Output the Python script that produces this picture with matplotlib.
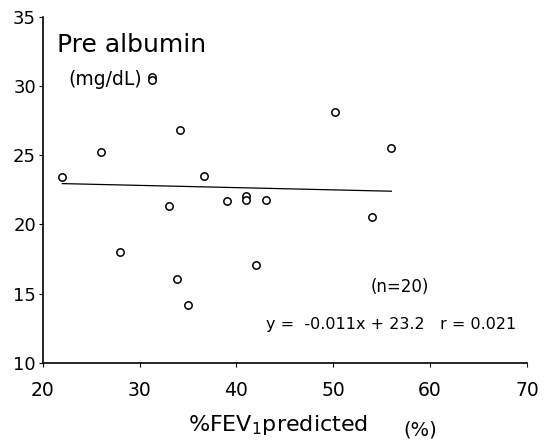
import matplotlib
matplotlib.use("Agg")
import matplotlib.pyplot as plt

fev1 = [22, 26, 28, 33, 33.9, 34.2, 35, 36.6, 39, 41, 41, 42, 43, 50.2, 54, 56, 31.3, 31.3]
prealb = [23.4, 25.25, 18.0, 21.3, 16.07, 26.84, 14.2, 23.5, 21.7, 22.05, 21.8, 17.1, 21.8, 28.1, 20.55, 25.5, 30.65, 30.4]
fit_x = [22, 56]
fit_y = [22.95, 22.4]
xticks = [20, 30, 40, 50, 60, 70]
yticks = [10, 15, 20, 25, 30, 35]

fig = plt.figure(figsize=(5.5, 4.43), dpi=100)
ax = fig.add_axes([0.078, 0.181, 0.88, 0.781])
ax.plot(fit_x, fit_y, color="black", lw=0.9)
ax.scatter(fev1, prealb, s=28, facecolors="white", edgecolors="black", linewidths=1.1, zorder=3)
ax.set_xlim(20, 70)
ax.set_ylim(10, 35)
ax.set_xticks(xticks)
ax.set_yticks(yticks)
ax.tick_params(axis="x", labelsize=13.5, length=3, width=0.8, direction="out", pad=10)
ax.tick_params(axis="y", labelsize=13, length=3, width=0.8, direction="out", pad=2)
for s in ["top", "right"]:
    ax.spines[s].set_visible(False)
for s in ["left", "bottom"]:
    ax.spines[s].set_linewidth(1.2)

ax.text(0.03, 0.919, "Pre albumin", transform=ax.transAxes, fontsize=18, va="center")
ax.text(0.052, 0.818, "(mg/dL)", transform=ax.transAxes, fontsize=13.5, va="center")
ax.text(0.738, 0.22, "(n=20)", transform=ax.transAxes, fontsize=12, ha="center", va="center")
ax.text(0.979, 0.11, "y =  -0.011x + 23.2   r = 0.021", transform=ax.transAxes, fontsize=11.5, ha="right", va="center")

fig.text(0.342, 0.04, "%FEV$_1$predicted", fontsize=16, va="center")
fig.text(0.733, 0.03, "(%)", fontsize=14, va="center")

fig.savefig("out.png", dpi=100)
